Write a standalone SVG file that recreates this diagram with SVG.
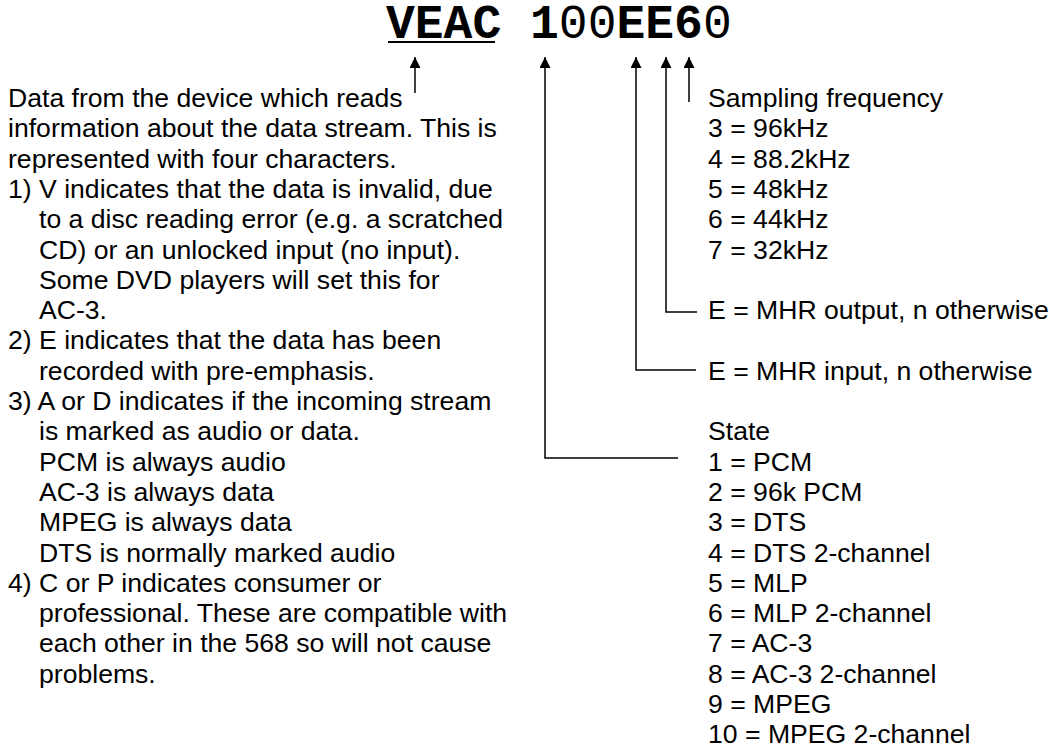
<svg xmlns="http://www.w3.org/2000/svg" width="1049" height="752" viewBox="0 0 1049 752">
<defs>
<style>
.t{font-family:"Liberation Sans",Arial,sans-serif;font-size:26.6px;fill:#000}
.m{font-family:"Liberation Mono","Courier New",monospace;font-size:48px;fill:#000}
.b{font-weight:bold}
.c{fill:none;stroke:#000;stroke-width:1.5}
</style>
<marker id="ah" markerUnits="userSpaceOnUse" markerWidth="11" markerHeight="11" refX="11" refY="5.5" orient="auto"><path d="M0,0 L11,5.5 L0,11 z" fill="#000"/></marker>
</defs>
<rect width="1049" height="752" fill="#fff"/>
<g id="title">
<text class="m" x="386" y="38"><tspan class="b">VEAC</tspan> <tspan class="b">1</tspan>00<tspan class="b">EE6</tspan>0</text>
<line x1="388" y1="42" x2="495" y2="42" stroke="#000" stroke-width="2"/>
</g>
<g id="connectors">
<path class="c" d="M415,93 L415,57" marker-end="url(#ah)"/>
<path class="c" d="M678,458 L545,458 L545,57" marker-end="url(#ah)"/>
<path class="c" d="M696,370 L636,370 L636,57" marker-end="url(#ah)"/>
<path class="c" d="M697,312 L666,312 L666,57" marker-end="url(#ah)"/>
<path class="c" d="M689,102 L689,57" marker-end="url(#ah)"/>
</g>
<g id="device-description">
<text class="t">
<tspan x="8" y="107">Data from the device which reads</tspan>
<tspan x="8" y="137.3">information about the data stream. This is</tspan>
<tspan x="8" y="167.6">represented with four characters.</tspan>
<tspan x="8" y="197.9">1) V indicates that the data is invalid, due</tspan>
<tspan x="39" y="228.2">to a disc reading error (e.g. a scratched</tspan>
<tspan x="39" y="258.5">CD) or an unlocked input (no input).</tspan>
<tspan x="39" y="288.8">Some DVD players will set this for</tspan>
<tspan x="39" y="319.1">AC-3.</tspan>
<tspan x="8" y="349.4">2) E indicates that the data has been</tspan>
<tspan x="39" y="379.7">recorded with pre-emphasis.</tspan>
<tspan x="8" y="410">3) A or D indicates if the incoming stream</tspan>
<tspan x="39" y="440.3">is marked as audio or data.</tspan>
<tspan x="39" y="470.6">PCM is always audio</tspan>
<tspan x="39" y="500.9">AC-3 is always data</tspan>
<tspan x="39" y="531.2">MPEG is always data</tspan>
<tspan x="39" y="561.5">DTS is normally marked audio</tspan>
<tspan x="8" y="591.8">4) C or P indicates consumer or</tspan>
<tspan x="39" y="622.1">professional. These are compatible with</tspan>
<tspan x="39" y="652.4">each other in the 568 so will not cause</tspan>
<tspan x="39" y="682.7">problems.</tspan>
</text>
</g>
<g id="sampling-frequency">
<text class="t">
<tspan x="708" y="107">Sampling frequency</tspan>
<tspan x="708" y="137.3">3 = 96kHz</tspan>
<tspan x="708" y="167.6">4 = 88.2kHz</tspan>
<tspan x="708" y="197.9">5 = 48kHz</tspan>
<tspan x="708" y="228.2">6 = 44kHz</tspan>
<tspan x="708" y="258.5">7 = 32kHz</tspan>
</text>
</g>
<g id="mhr-output">
<text class="t" x="708" y="319.1">E = MHR output, n otherwise</text>
</g>
<g id="mhr-input">
<text class="t" x="708" y="379.7">E = MHR input, n otherwise</text>
</g>
<g id="state">
<text class="t">
<tspan x="708" y="440.3">State</tspan>
<tspan x="708" y="470.6">1 = PCM</tspan>
<tspan x="708" y="500.9">2 = 96k PCM</tspan>
<tspan x="708" y="531.2">3 = DTS</tspan>
<tspan x="708" y="561.5">4 = DTS 2-channel</tspan>
<tspan x="708" y="591.8">5 = MLP</tspan>
<tspan x="708" y="622.1">6 = MLP 2-channel</tspan>
<tspan x="708" y="652.4">7 = AC-3</tspan>
<tspan x="708" y="682.7">8 = AC-3 2-channel</tspan>
<tspan x="708" y="713">9 = MPEG</tspan>
<tspan x="708" y="743.3">10 = MPEG 2-channel</tspan>
</text>
</g>
</svg>
